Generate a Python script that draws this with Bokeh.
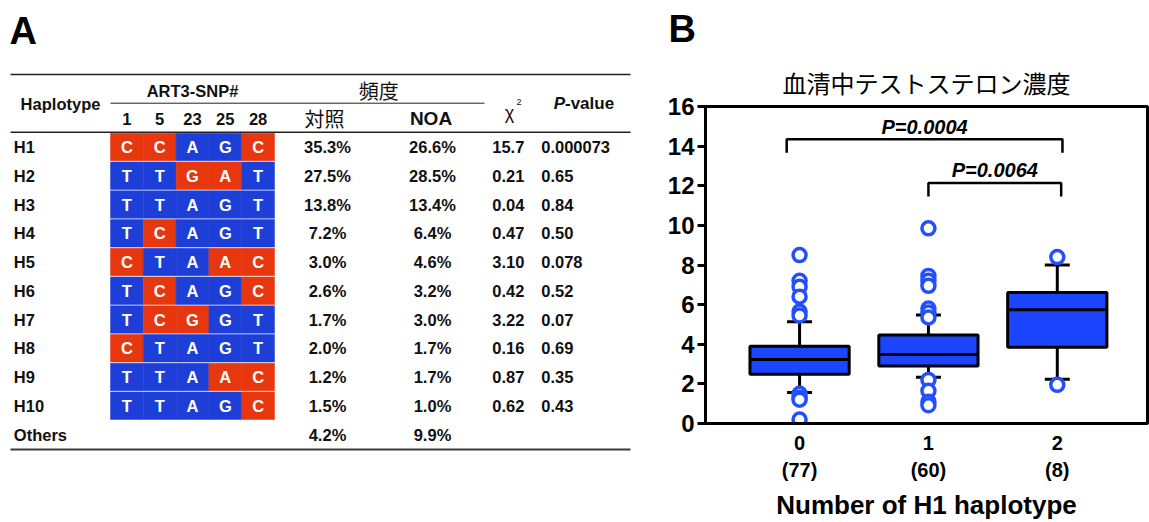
from bokeh.plotting import figure
from bokeh.models import Range1d, FixedTicker, LinearAxis, Title
from bokeh.layouts import row
from bokeh.core.properties import value
from bokeh.embed import file_html
from bokeh.resources import INLINE

# ---------------- data: panel A (haplotype table) ----------------
haplotypes = ["H1", "H2", "H3", "H4", "H5", "H6", "H7", "H8", "H9", "H10", "Others"]
snp_ids = ["1", "5", "23", "25", "28"]
red_alleles = ["C", "C", "G", "A", "C"]
sequences = ["CCAGC", "TTGAT", "TTAGT", "TCAGT", "CTAAC", "TCAGC",
             "TCGGT", "CTAGT", "TTAAC", "TTAGC"]
freq_control = ["35.3%", "27.5%", "13.8%", "7.2%", "3.0%", "2.6%",
                "1.7%", "2.0%", "1.2%", "1.5%", "4.2%"]
freq_noa = ["26.6%", "28.5%", "13.4%", "6.4%", "4.6%", "3.2%",
            "3.0%", "1.7%", "1.7%", "1.0%", "9.9%"]
chi_square = ["15.7", "0.21", "0.04", "0.47", "3.10", "0.42",
              "3.22", "0.16", "0.87", "0.62", ""]
p_values = ["0.000073", "0.65", "0.84", "0.50", "0.078", "0.52",
            "0.07", "0.69", "0.35", "0.43", ""]

# ---------------- data: panel B (box plot) ----------------
h1_number = [0, 1, 2]
group_n = [77, 60, 8]
q1 = [2.48, 2.90, 3.85]
median = [3.23, 3.48, 5.74]
q3 = [3.90, 4.47, 6.61]
whisker_low = [1.56, 2.34, 2.23]
whisker_high = [5.14, 5.48, 8.00]
outlier_group = [0, 0, 0, 0, 0, 0, 0, 0, 0, 0,
                 1, 1, 1, 1, 1, 1, 1, 1, 1, 1, 1,
                 2, 2]
outlier_value = [8.5, 7.2, 6.9, 6.4, 5.65, 5.45, 1.5, 1.3, 1.2, 0.2,
                 9.85, 7.45, 7.2, 6.95, 5.8, 5.6, 5.35, 2.2, 1.65, 1.1, 0.92,
                 8.4, 1.95]
comp_x0 = [-0.10, 1.00]
comp_x1 = [2.04, 2.03]
comp_level = [14.35, 12.14]
comp_label = ["P=0.0004", "P=0.0064"]
title_text = "血清中テストステロン濃度"
xlabel_text = "Number of H1 haplotype"

LAT = "Liberation Sans"
CJK = "Noto Sans CJK JP"
NARROW = "Liberation Sans Narrow, Liberation Sans"
RED = "#e6370f"
TBLUE = "#1d3fd8"
BOX_BLUE = "#1b45ff"
PT_BLUE = "#2350ff"

# ================= Panel A =================
pA = figure(width=650, height=522, x_range=Range1d(0, 650), y_range=Range1d(522, 0),
            x_axis_type=None, y_axis_type=None, output_backend="svg",
            toolbar_location=None, min_border=0)
pA.title.visible = False
pA.outline_line_color = None
pA.grid.visible = False
pA.background_fill_color = "white"
pA.frame_align = False

row0 = 146.5
pitch = 28.75
row_y = [row0 + pitch * i for i in range(len(haplotypes))]
cell_x0 = 110.0
cell_w = 32.8
col_x = [cell_x0 + cell_w * (j + 0.5) for j in range(len(snp_ids))]

# horizontal rules
pA.segment(x0=[10, 10, 110], x1=[630, 630, 484], y0=[74, 131.7, 102.7], y1=[74, 131.7, 102.7],
           line_color="#222222", line_width=[1.4, 1.4, 1.0])
pA.segment(x0=[10], x1=[630], y0=[449], y1=[449], line_color="#3a3a3a", line_width=2.2)

# cells
cx, cy, cc, cl = [], [], [], []
for i, seq in enumerate(sequences):
    for j, base in enumerate(seq):
        cx.append(col_x[j])
        cy.append(row_y[i])
        cc.append(RED if base == red_alleles[j] else TBLUE)
        cl.append(base)
pA.rect(x=cx, y=cy, width=cell_w, height=27.4, fill_color=cc, line_color=cc, line_width=0.5)
pA.text(x=cx, y=cy, text=cl, text_color="white", text_font=value(LAT), text_font_style="bold",
        text_font_size="16.5px", text_align="center", text_baseline="middle")

# header
bold = dict(text_font=value(LAT), text_font_style="bold", text_color="#111111",
            text_baseline="middle")
pA.text(x=[60], y=[103.3], text=["Haplotype"], text_font_size="16.5px", text_align="center", **bold)
pA.text(x=[192], y=[90], text=["ART3-SNP#"], text_font_size="16.5px", text_align="center", **bold)
pA.text(x=col_x, y=[118.3] * len(snp_ids), text=snp_ids, text_font_size="16.5px",
        text_align="center", **bold)
pA.text(x=[378.3], y=[90], text=["頻度"], text_font=value(CJK), text_font_size="20px",
        text_align="center", text_baseline="middle", text_color="#111111")
pA.text(x=[324], y=[118.3], text=["対照"], text_font=value(CJK), text_font_size="20px",
        text_align="center", text_baseline="middle", text_color="#111111")
pA.text(x=[430.5], y=[118.3], text=["NOA"], text_font_size="19px", text_align="center", **bold)
pA.text(x=[509], y=[112], text=["χ"], text_font=value(LAT), text_font_size="18px",
        text_align="center", text_baseline="middle", text_color="#111111")
pA.text(x=[518.5], y=[101], text=["2"], text_font=value(LAT), text_font_size="9px",
        text_align="center", text_baseline="middle", text_color="#111111")
pA.text(x=[564.5], y=[103.3], text=["P"], text_font=value(LAT), text_font_style="bold italic",
        text_font_size="17px", text_align="right", text_baseline="middle", text_color="#111111")
pA.text(x=[564.5], y=[103.3], text=["-value"], text_font_size="17px", text_align="left", **bold)

# body
n = len(haplotypes)
pA.text(x=[13.3] * n, y=row_y, text=haplotypes, text_font_size="16.5px", text_align="left", **bold)
pA.text(x=[327] * n, y=row_y, text=freq_control, text_font_size="16.5px", text_align="center", **bold)
pA.text(x=[432] * n, y=row_y, text=freq_noa, text_font_size="16.5px", text_align="center", **bold)
pA.text(x=[491.7] * n, y=row_y, text=chi_square, text_font_size="16.5px", text_align="left", **bold)
pA.text(x=[540.7] * n, y=row_y, text=p_values, text_font_size="16.5px", text_align="left", **bold)

# panel letter
pA.text(x=[9], y=[30], text=["A"], text_font=value(NARROW),
        text_font_style="bold", text_font_size="38px", text_align="left",
        text_baseline="middle", text_color="black")

# ================= Panel B =================
pB = figure(width=499, height=522, x_range=Range1d(-0.73, 2.70), y_range=Range1d(0, 16),
            output_backend="svg", toolbar_location=None,
            min_border_left=55, min_border_right=2, min_border_top=104, min_border_bottom=99)
pB.frame_align = False
pB.grid.visible = False
pB.outline_line_color = "black"
pB.outline_line_width = 3
pB.background_fill_color = "white"
pB.border_fill_color = "white"

# panel letter (outermost title) and chart title (next to the frame)
pB.title.text = "B"
pB.title.align = "left"
pB.title.offset = -37
pB.title.text_font = NARROW
pB.title.text_font_style = "bold"
pB.title.text_font_size = "38px"
pB.title.text_color = "black"
pB.title.standoff = 11
pB.add_layout(Title(text=title_text, align="center", text_font=CJK, text_font_style="normal",
                    text_font_size="24px", text_color="black", standoff=14), "above")

yax = pB.yaxis[0]
yax.ticker = FixedTicker(ticks=[0, 2, 4, 6, 8, 10, 12, 14, 16])
yax.axis_line_width = 3
yax.major_tick_line_width = 3
yax.major_tick_out = 8
yax.major_tick_in = 0
yax.minor_tick_line_color = None
yax.minor_tick_out = 0
yax.major_label_standoff = 3
yax.major_label_text_font = LAT
yax.major_label_text_font_style = "bold"
yax.major_label_text_font_size = "24px"
yax.major_label_text_color = "black"

xax = pB.xaxis[0]
xax.ticker = FixedTicker(ticks=h1_number)
xax.major_label_overrides = {g: str(g) for g in h1_number}
xax.axis_line_width = 3
xax.major_tick_line_color = None
xax.major_tick_out = 0
xax.major_tick_in = 0
xax.minor_tick_line_color = None
xax.minor_tick_out = 0
xax.major_label_standoff = 12
xax.major_label_text_font = LAT
xax.major_label_text_font_style = "bold"
xax.major_label_text_font_size = "20px"
xax.major_label_text_color = "black"

xax2 = LinearAxis(ticker=FixedTicker(ticks=h1_number),
                  major_label_overrides={g: "(%d)" % c for g, c in zip(h1_number, group_n)},
                  axis_line_color=None, major_tick_line_color=None, minor_tick_line_color=None,
                  major_tick_out=0, major_tick_in=0, minor_tick_out=0, minor_tick_in=0,
                  major_label_standoff=6, major_label_text_font=LAT,
                  major_label_text_font_style="bold", major_label_text_font_size="20px",
                  major_label_text_color="black",
                  axis_label=xlabel_text, axis_label_standoff=6, axis_label_text_font=LAT,
                  axis_label_text_font_style="bold", axis_label_text_font_size="26px",
                  axis_label_text_color="black")
pB.add_layout(xax2, "below")

box_w = 0.77
cap_w = 0.194
# whiskers
pB.segment(x0=h1_number, x1=h1_number, y0=q3, y1=whisker_high, line_color="black", line_width=3)
pB.segment(x0=h1_number, x1=h1_number, y0=q1, y1=whisker_low, line_color="black", line_width=3)
pB.segment(x0=[g - cap_w / 2 for g in h1_number], x1=[g + cap_w / 2 for g in h1_number],
           y0=whisker_high, y1=whisker_high, line_color="black", line_width=3)
pB.segment(x0=[g - cap_w / 2 for g in h1_number], x1=[g + cap_w / 2 for g in h1_number],
           y0=whisker_low, y1=whisker_low, line_color="black", line_width=3)
# boxes
pB.vbar(x=h1_number, width=box_w, bottom=q1, top=q3, fill_color=BOX_BLUE,
        line_color="black", line_width=3)
pB.segment(x0=[g - box_w / 2 for g in h1_number], x1=[g + box_w / 2 for g in h1_number],
           y0=median, y1=median, line_color="black", line_width=3)
# outliers
pB.scatter(x=outlier_group, y=outlier_value, marker="circle", size=13, line_width=3.5,
           line_color=PT_BLUE, fill_color="white")

# significance brackets
drop = 0.68
pB.multi_line(xs=[[a, a, b, b] for a, b in zip(comp_x0, comp_x1)],
              ys=[[h - drop, h, h, h - drop] for h in comp_level],
              line_color="black", line_width=2.5)
pB.text(x=[(a + b) / 2 for a, b in zip(comp_x0, comp_x1)], y=[h + 0.64 for h in comp_level],
        text=comp_label, text_font=value(LAT), text_font_style="bold italic",
        text_font_size="20px", text_align="center", text_baseline="middle", text_color="black")

layout = row(pA, pB)
open("out.html", "w").write(file_html(layout, INLINE))
